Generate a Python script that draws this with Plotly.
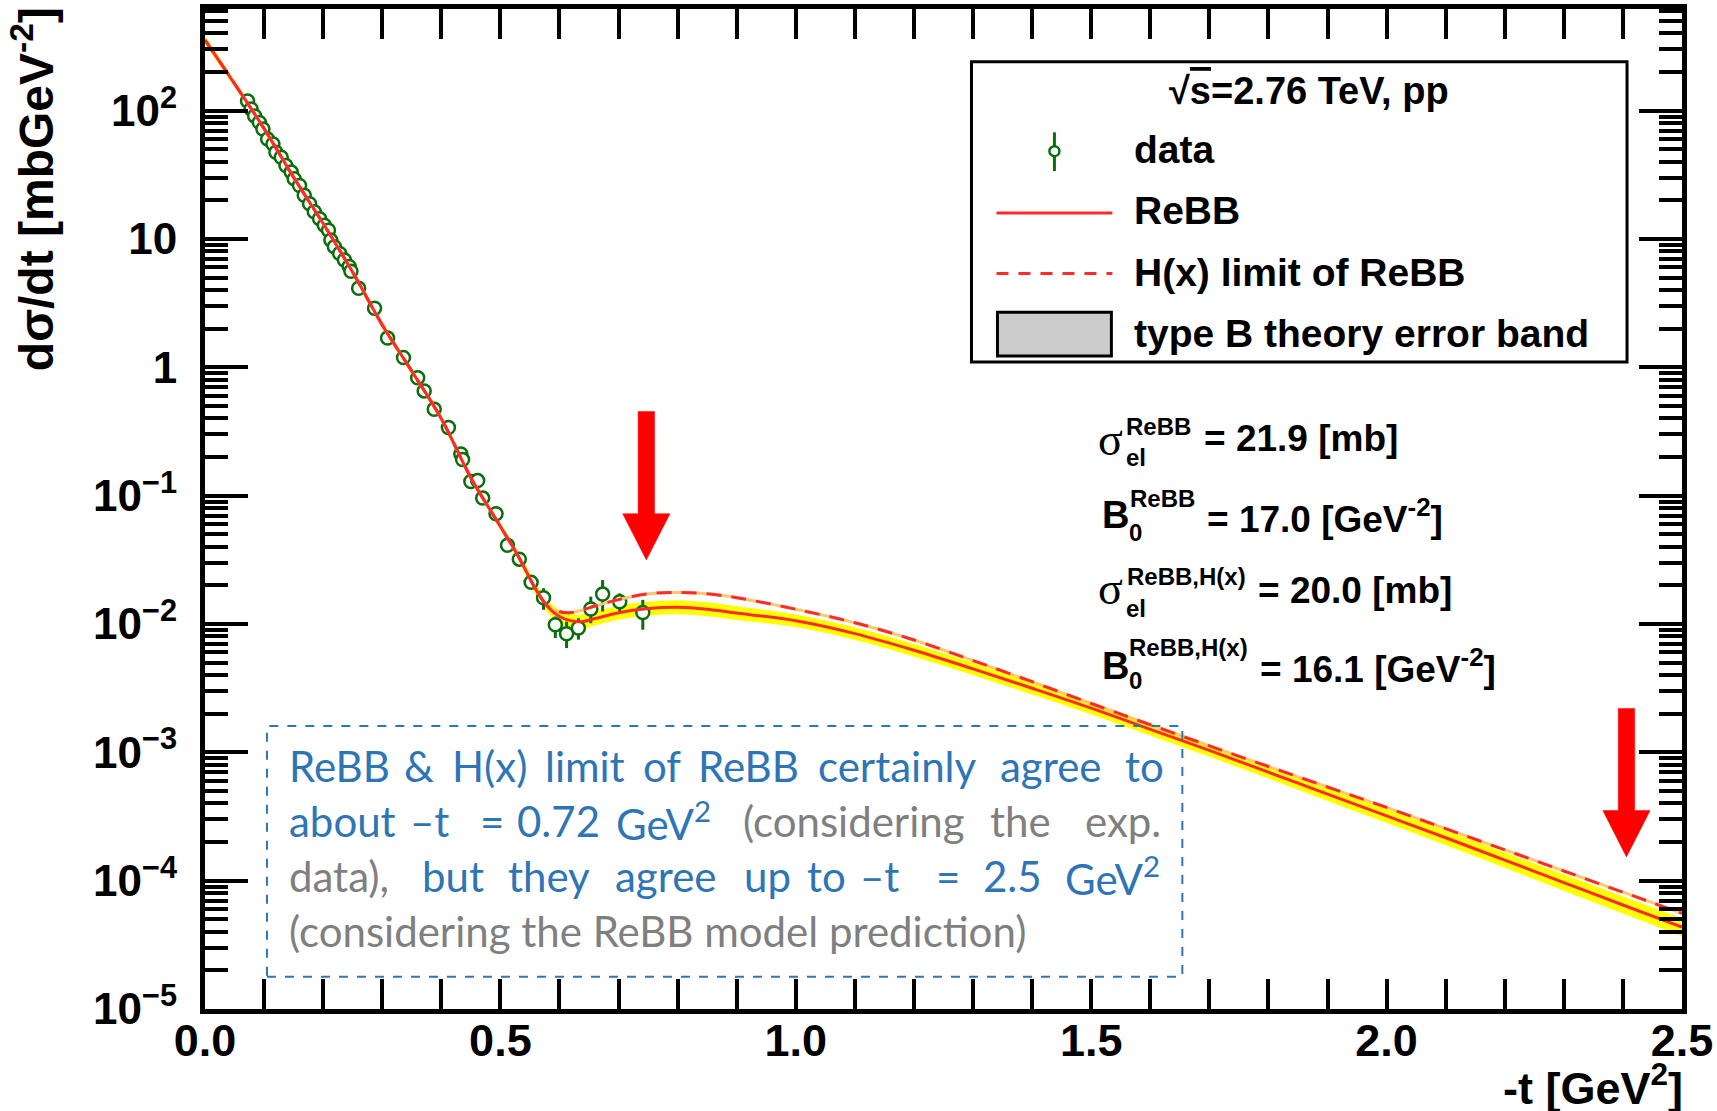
import numpy as np
import plotly.graph_objects as go

# ---------------- data ----------------
t_data = [0.072, 0.078, 0.084, 0.092, 0.098, 0.106, 0.115, 0.120, 0.129, 0.137,
          0.146, 0.151, 0.160, 0.168, 0.177, 0.185, 0.194, 0.202, 0.209, 0.213,
          0.219, 0.228, 0.236, 0.244, 0.247, 0.260, 0.287, 0.309, 0.336, 0.360,
          0.371, 0.388, 0.412, 0.433, 0.436, 0.450, 0.4615, 0.470, 0.4926, 0.512,
          0.532, 0.552, 0.573, 0.593, 0.612, 0.632, 0.653, 0.673, 0.702, 0.741]
dsdt_data = [119, 103, 91, 81, 72, 60, 55, 47.4, 43.4, 37.3,
             33.2, 29.4, 26.1, 21.9, 18.8, 16.3, 14.4, 12.8, 11.7, 9.8,
             8.7, 7.7, 6.86, 6.1, 5.6, 4.13, 2.89, 1.69, 1.19, 0.83,
             0.655, 0.471, 0.34, 0.211, 0.191, 0.129, 0.131, 0.0957, 0.0723, 0.0411,
             0.032, 0.0211, 0.016, 0.00987, 0.0084, 0.0093, 0.0131, 0.0171, 0.0149, 0.0123]
err_up = [2.4, 2.1, 1.8, 1.6, 1.4, 1.2, 1.1, 0.95, 0.87, 0.75,
          0.66, 0.59, 0.52, 0.44, 0.38, 0.33, 0.29, 0.26, 0.23, 0.2,
          0.17, 0.15, 0.14, 0.12, 0.11, 0.08, 0.06, 0.034, 0.024, 0.017,
          0.013, 0.0095, 0.007, 0.0045, 0.004, 0.0028, 0.0028, 0.0022, 0.0018, 0.0012,
          0.0022, 0.0022, 0.0030, 0.00156, 0.00205, 0.00179, 0.00323, 0.0049, 0.00244, 0.00312]
err_dn = [2.4, 2.1, 1.8, 1.6, 1.4, 1.2, 1.1, 0.95, 0.87, 0.75,
          0.66, 0.59, 0.52, 0.44, 0.38, 0.33, 0.29, 0.26, 0.23, 0.2,
          0.17, 0.15, 0.14, 0.12, 0.11, 0.08, 0.06, 0.034, 0.024, 0.017,
          0.013, 0.0095, 0.007, 0.0045, 0.004, 0.0028, 0.0028, 0.0022, 0.0018, 0.0012,
          0.0022, 0.0022, 0.0031, 0.00211, 0.00191, 0.00175, 0.00296, 0.0046, 0.0024, 0.00328]

t_model = [0.0, 0.05, 0.10, 0.15, 0.20, 0.25, 0.30, 0.35, 0.40, 0.45,
           0.50, 0.53, 0.56, 0.58, 0.60, 0.62, 0.64, 0.66, 0.70, 0.75,
           0.80, 0.85, 0.90, 1.00, 1.10, 1.20, 1.30, 1.40, 1.50, 1.60,
           1.70, 1.80, 1.90, 2.00, 2.10, 2.20, 2.30, 2.40, 2.50]
rebb = [355, 162, 72.4, 30.2, 13.2, 5.50, 2.14, 0.933, 0.398, 0.138,
        0.0575, 0.0339, 0.0186, 0.01365, 0.01143, 0.01057, 0.01047, 0.01102, 0.01225, 0.01318,
        0.01349, 0.01303, 0.01216, 0.01059, 0.00841, 0.00624, 0.00447, 0.00316, 0.00221, 0.00151,
        0.001035, 7.0e-4, 4.73e-4, 3.20e-4, 2.16e-4, 1.445e-4, 9.66e-5, 6.46e-5, 4.34e-5]
rebb_hx = [355, 162, 72.4, 30.2, 13.2, 5.50, 2.14, 0.933, 0.398, 0.138,
           0.0575, 0.0339, 0.0186, 0.0138, 0.01245, 0.0123, 0.01288, 0.0138, 0.01549, 0.01718,
           0.01758, 0.01718, 0.01603, 0.01303, 0.01023, 0.0075, 0.00519, 0.00355, 0.0024, 0.00164,
           0.001122, 7.76e-4, 5.37e-4, 3.72e-4, 2.54e-4, 1.74e-4, 1.19e-4, 8.13e-5, 5.57e-5]
# half width of the yellow type-B band, in decades
band_dex = [0.03, 0.02, 0.02, 0.02, 0.02, 0.02, 0.02, 0.02, 0.02, 0.02,
            0.02, 0.03, 0.04, 0.045, 0.05, 0.05, 0.05, 0.05, 0.05, 0.05,
            0.05, 0.05, 0.05, 0.045, 0.045, 0.045, 0.045, 0.045, 0.045, 0.045,
            0.045, 0.045, 0.05, 0.05, 0.053, 0.056, 0.06, 0.063, 0.066]

y_ticks = [1e-5, 1e-4, 1e-3, 1e-2, 1e-1, 1, 10, 100]
y_ticktext = ["10<sup>\u22125</sup>", "10<sup>\u22124</sup>", "10<sup>\u22123</sup>",
              "10<sup>\u22122</sup>", "10<sup>\u22121</sup>", "1", "10", "10<sup>2</sup>"]
x_ticks = [0.0, 0.5, 1.0, 1.5, 2.0, 2.5]
x_ticktext = ["0.0", "0.5", "1.0", "1.5", "2.0", "2.5"]

# arrows: (center t, shaft top, head base, tip)
arrows = [(0.747, 0.452, 0.0723, 0.0315), (2.406, 2.20e-3, 3.52e-4, 1.53e-4)]

# ---------------- figure ----------------
W, H = 1717, 1111
PL, PR, PT, PB = 205, 1683, 4, 1009.5
YRANGE = [-5, 2.792]


def fx(px):
    return (px - PL) / (PR - PL)


def fy(py):
    return (PB - py) / (PB - PT)


RED = "#ff2a2a"
GREEN = "#0a6e0a"
BLUE = "#2E75B6"
GRAY = "#7F7F7F"
HELV = "Liberation Sans, Arial, sans-serif"
NARROW = "Liberation Sans Narrow, Liberation Sans, Arial, sans-serif"

rebb_a = np.array(rebb)
bw = np.array(band_dex)
band_hi = rebb_a * 10 ** bw
band_lo = rebb_a * 10 ** (-bw)

fig = go.Figure()

# yellow band
fig.add_trace(go.Scatter(x=t_model, y=band_lo, mode="lines", line=dict(color="#ffff00", width=1, shape="spline"),
                         hoverinfo="skip", showlegend=False))
fig.add_trace(go.Scatter(x=t_model, y=band_hi, mode="lines", line=dict(color="#ffff00", width=1, shape="spline"),
                         fill="tonexty", fillcolor="#ffff00", hoverinfo="skip", showlegend=False))

# data
fig.add_trace(go.Scatter(
    x=t_data, y=dsdt_data, mode="markers",
    marker=dict(symbol="circle", size=13, color="white", line=dict(color=GREEN, width=2.5)),
    error_y=dict(type="data", array=err_up, arrayminus=err_dn, color=GREEN, thickness=3, width=0),
    hoverinfo="skip", showlegend=False))

# H(x) limit (dashed, with light orange underlay)
fig.add_trace(go.Scatter(x=t_model, y=rebb_hx, mode="lines",
                         line=dict(color="#ffc870", width=3, shape="spline"),
                         hoverinfo="skip", showlegend=False))
fig.add_trace(go.Scatter(x=t_model, y=rebb_hx, mode="lines",
                         line=dict(color=RED, width=3, dash="15px,10px", shape="spline"),
                         hoverinfo="skip", showlegend=False))
# ReBB
fig.add_trace(go.Scatter(x=t_model, y=rebb, mode="lines",
                         line=dict(color=RED, width=3, shape="spline"),
                         hoverinfo="skip", showlegend=False))

# red arrows
SHAFT_HW, HEAD_HW = 0.0139, 0.040
for tc, top, base, tip in arrows:
    xs = [tc - SHAFT_HW, tc + SHAFT_HW, tc + SHAFT_HW, tc + HEAD_HW, tc, tc - HEAD_HW, tc - SHAFT_HW, tc - SHAFT_HW]
    ys = [top, top, base, base, tip, base, base, top]
    fig.add_trace(go.Scatter(x=xs, y=ys, mode="lines", fill="toself", fillcolor="#ff0000",
                             line=dict(color="#ff0000", width=0.5), hoverinfo="skip", showlegend=False))

# invisible trace so that the minor-tick overlay axis gets drawn
fig.add_trace(go.Scatter(x=[None], y=[None], yaxis="y2", mode="lines", hoverinfo="skip", showlegend=False))

minor_y = [m * 10.0 ** e for e in range(-5, 3) for m in range(2, 10)]
minor_x = [round(0.1 * k, 2) for k in range(1, 25) if k % 5 != 0]

fig.update_layout(
    width=W, height=H,
    margin=dict(l=PL, r=W - PR, t=PT, b=H - PB),
    paper_bgcolor="white", plot_bgcolor="white",
    xaxis=dict(range=[0, 2.5], tickmode="array", tickvals=x_ticks, ticktext=x_ticktext,
               ticks="inside", ticklen=30, tickwidth=4, tickcolor="black",
               showline=True, linewidth=5, linecolor="black", mirror="allticks",
               showgrid=False, zeroline=False, ticklabelstandoff=-12,
               tickfont=dict(family=HELV, size=45, color="black", weight="bold"),
               minor=dict(tickmode="array", tickvals=minor_x, ticks="inside", ticklen=15, tickwidth=4,
                          tickcolor="black", showgrid=False)),
    yaxis=dict(type="log", range=YRANGE, tickmode="array", tickvals=y_ticks, ticktext=y_ticktext,
               ticks="inside", ticklen=43, tickwidth=4, tickcolor="black",
               showline=True, linewidth=5, linecolor="black", mirror="allticks",
               showgrid=False, zeroline=False, ticklabelstandoff=14,
               tickfont=dict(family=NARROW, size=44, color="black", weight="bold")),
    yaxis2=dict(type="log", range=YRANGE, overlaying="y", side="left", tickmode="array", tickvals=minor_y,
                showticklabels=False, ticks="inside", ticklen=23, tickwidth=4, tickcolor="black",
                showline=False, mirror="ticks", showgrid=False, zeroline=False),
)

shapes = []
annos = []


def txt(text, x, y, size, family=HELV, color="black", xanchor="left", yanchor="middle", bold=True, angle=0):
    annos.append(dict(text=text, x=fx(x), y=fy(y), xref="paper", yref="paper", showarrow=False,
                      xanchor=xanchor, yanchor=yanchor, textangle=angle,
                      font=dict(family=family, size=size, color=color, weight="bold" if bold else "normal")))


# axis titles
txt("d\u03c3/dt [mbGeV<sup>-2</sup>]", 33, 0, 48, xanchor="center", yanchor="top", angle=-90)
txt("-t [GeV<sup>2</sup>]", 1686, 1086, 45, xanchor="right")

# legend box
shapes.append(dict(type="rect", xref="paper", yref="paper", x0=fx(972), x1=fx(1628), y0=fy(359), y1=fy(57),
                   line=dict(color="black", width=3), fillcolor="white", layer="below"))
txt("\u221a<span style='text-decoration:overline'>s</span>=2.76 TeV, pp", 1310, 86, 38, xanchor="center")
# data symbol
shapes.append(dict(type="line", xref="paper", yref="paper", x0=fx(1055), x1=fx(1055), y0=fy(128), y1=fy(167),
                   line=dict(color=GREEN, width=3)))
shapes.append(dict(type="circle", xref="paper", yref="paper", x0=fx(1050), x1=fx(1060), y0=fy(152), y1=fy(142),
                   line=dict(color=GREEN, width=2.5), fillcolor="white"))
txt("data", 1133, 145, 39)
shapes.append(dict(type="line", xref="paper", yref="paper", x0=fx(997), x1=fx(1113), y0=fy(209), y1=fy(209),
                   line=dict(color=RED, width=3)))
txt("ReBB", 1133, 207, 39)
shapes.append(dict(type="line", xref="paper", yref="paper", x0=fx(997), x1=fx(1113), y0=fy(270), y1=fy(270),
                   line=dict(color=RED, width=3, dash="12px,10px")))
txt("H(x) limit of ReBB", 1133, 269, 39)
shapes.append(dict(type="rect", xref="paper", yref="paper", x0=fx(998), x1=fx(1112), y0=fy(353), y1=fy(309),
                   line=dict(color="black", width=3), fillcolor="#cccccc"))
txt("type B theory error band", 1133, 330, 39)

# parameter annotations
SERIF = "Liberation Serif, DejaVu Serif, serif"
SUP = 24
# sigma_el^ReBB
txt("\u03c3", 1097, 437, 46, family=SERIF, bold=False)
txt("ReBB", 1125, 424, SUP)
txt("el", 1125, 455, SUP)
txt("= 21.9 [mb]", 1203, 436, 37)
# B0^ReBB
txt("B", 1101, 513, 38)
txt("ReBB", 1129, 496, SUP)
txt("0", 1128, 530, SUP)
txt("= 17.0 [GeV<sup>-2</sup>]", 1206, 514, 37)
# sigma_el^ReBB,H(x)
txt("\u03c3", 1097, 587, 46, family=SERIF, bold=False)
txt("ReBB,H(x)", 1126, 575, SUP)
txt("el", 1125, 607, SUP)
txt("= 20.0 [mb]", 1257, 589, 37)
# B0^ReBB,H(x)
txt("B", 1101, 665, 38)
txt("ReBB,H(x)", 1128, 646, SUP)
txt("0", 1128, 679, SUP)
txt("= 16.1 [GeV<sup>-2</sup>]", 1259, 665, 37)

# dashed comment box
shapes.append(dict(type="rect", xref="paper", yref="paper", x0=fx(267), x1=fx(1183), y0=fy(977), y1=fy(725),
                   line=dict(color=BLUE, width=2, dash="dash"), fillcolor="rgba(0,0,0,0)"))
CAL = "Lato, Carlito, Noto Sans, sans-serif"
FS = 42
lines = [
    (765, [("ReBB", 287, BLUE), ("&", 402, BLUE), ("H(x)", 450, BLUE), ("limit", 543, BLUE), ("of", 641, BLUE),
           ("ReBB", 696, BLUE), ("certainly", 816, BLUE), ("agree", 999, BLUE), ("to", 1124, BLUE)]),
    (820, [("about", 287, BLUE), ("\u2013t", 408, BLUE), ("=", 478, BLUE), ("0.72", 515, BLUE),
           ("GeV<sup>2</sup>", 614, BLUE), ("(considering", 741, GRAY), ("the", 989, GRAY), ("exp.", 1084, GRAY)]),
    (876, [("data),", 287, GRAY), ("but", 420, BLUE), ("they", 506, BLUE), ("agree", 613, BLUE), ("up", 742, BLUE),
           ("to", 805, BLUE), ("\u2013t", 858, BLUE), ("=", 934, BLUE), ("2.5", 982, BLUE),
           ("GeV<sup>2</sup>", 1064, BLUE)]),
    (931, [("(considering the ReBB model prediction)", 287, GRAY)]),
]
for yc, words in lines:
    for w, xw, col in words:
        txt(w, xw, yc, FS, family=CAL, color=col, bold=False)

fig.update_layout(shapes=shapes, annotations=annos)
fig.write_html("out.html")
